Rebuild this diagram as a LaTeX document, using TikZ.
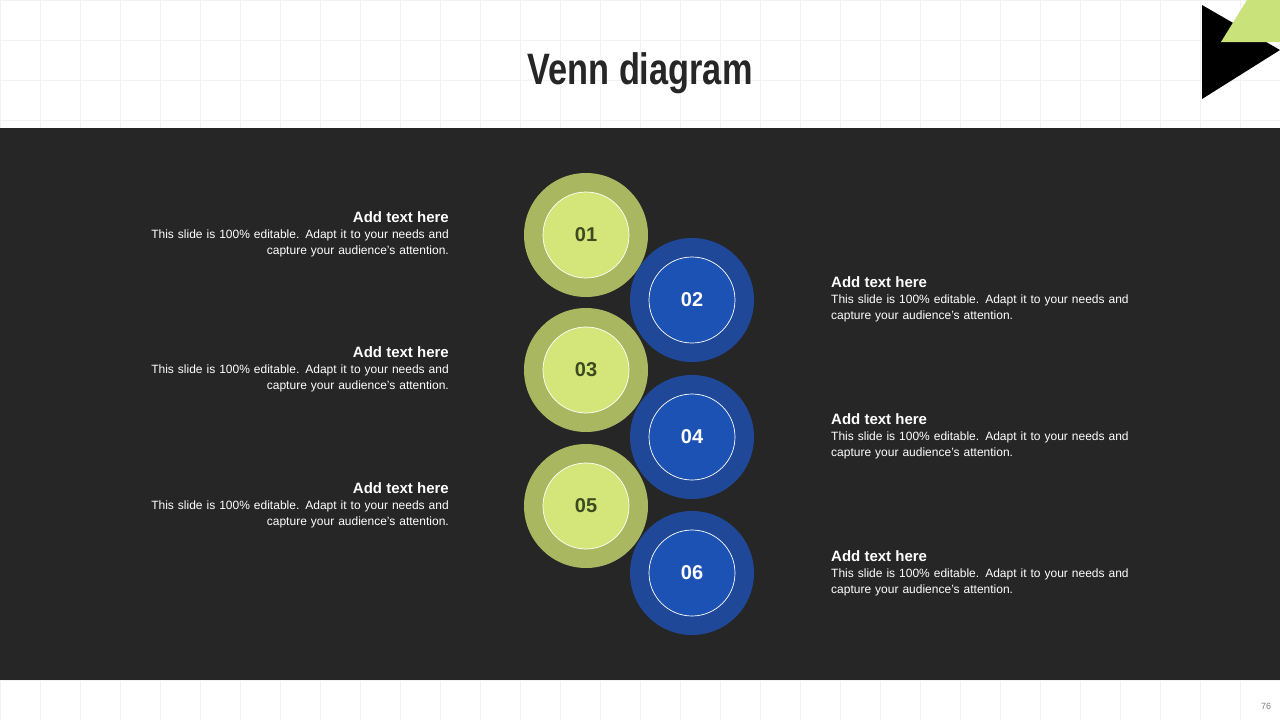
\documentclass[tikz,border=0pt]{standalone}
\usepackage{fontspec}
\setmainfont{Liberation Sans}
\usetikzlibrary{positioning}

\definecolor{band}{HTML}{262626}
\definecolor{limeout}{HTML}{A9B860}
\definecolor{limein}{HTML}{D4E67A}
\definecolor{limetxt}{HTML}{3E4A1F}
\definecolor{blueout}{HTML}{1F4898}
\definecolor{bluein}{HTML}{1D52B5}
\definecolor{gridc}{HTML}{F2F2F2}
\definecolor{tri}{HTML}{C9E27A}

\tikzset{
  outer/.style={circle, minimum size=124pt, inner sep=0pt},
  inner/.style={circle, minimum size=86pt, inner sep=0pt, draw=white, line width=0.7pt},
  num/.style={font=\bfseries\fontsize{20}{22}\selectfont},
  head/.style={font=\bfseries\fontsize{15}{17}\selectfont, text=white, inner sep=0pt},
  body/.style={font=\fontsize{12}{16}\selectfont, text=white, inner sep=0pt, text width=320pt},
}

\begin{document}
\begin{tikzpicture}[x=1pt, y=-1pt]
\useasboundingbox (0,0) rectangle (1280,720);
\fill[white] (0,0) rectangle (1280,720);
% faint grid
\foreach \gx in {0,40,...,1280} \draw[gridc, line width=0.5pt] (\gx,0) -- (\gx,720);
\foreach \gy in {0,40,...,720} \draw[gridc, line width=0.5pt] (0,\gy) -- (1280,\gy);
\fill[band] (0,128) rectangle (1280,680);

\node (title) at (640,73) {\scalebox{0.78}[1]{\fontsize{44}{48}\selectfont\bfseries\color{band}Venn diagram}};
\fill[black] (1202,5) -- (1280,50) -- (1202,99) -- cycle;
\fill[tri] (1221,42) -- (1247,0) -- (1280,0) -- (1280,42) -- cycle;
\node[text=gray, font=\fontsize{9}{10}\selectfont] (page) at (1266,706) {76};

% circles
\foreach \n/\px/\py/\kind in {01/586/235/lime, 02/692/300/blue, 03/586/370/lime, 04/692/437/blue, 05/586/506/lime, 06/692/573/blue} {
  \node[outer, fill={\kind out}] (o\n) at (\px,\py) {};
  \node[inner, fill={\kind in}] (c\n) at (\px,\py) {};
}
\foreach \n in {01,03,05} \node[num, text=limetxt] at (c\n) {\n};
\foreach \n in {02,04,06} \node[num, text=white] at (c\n) {\n};

% left texts
\foreach \k/\hy in {a/217, b/352, c/488} {
  \node[head, anchor=east] (h\k) at (449,\hy) {Add text here};
  \node[body, align=right, anchor=north east] (t\k) at (449,\hy+13) {This slide is 100\% editable. Adapt it to your needs and\\capture your audience's attention.};
}
% right texts
\foreach \k/\hy in {d/282, e/419, f/556} {
  \node[head, anchor=west] (h\k) at (831,\hy) {Add text here};
  \node[body, align=left, anchor=north west] (t\k) at (831,\hy+13) {This slide is 100\% editable. Adapt it to your needs and\\capture your audience's attention.};
}
\end{tikzpicture}
\end{document}
